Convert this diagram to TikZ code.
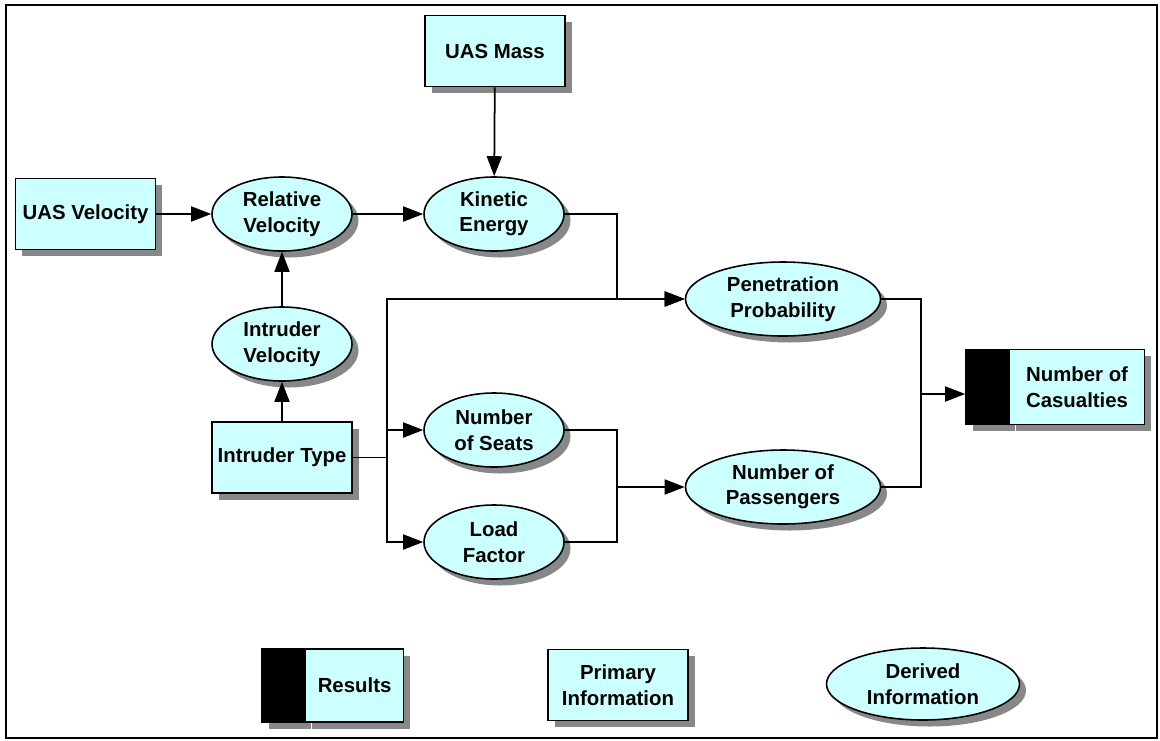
\documentclass[tikz,border=0pt]{standalone}
\usepackage{fontspec}
\setmainfont{Liberation Sans}
\usetikzlibrary{arrows.meta,shapes.geometric,shadows}
\definecolor{infocyan}{RGB}{204,255,255}
\definecolor{shadowgray}{RGB}{136,136,136}

\begin{document}
\begin{tikzpicture}[
    font=\fontsize{11.6}{14.5}\selectfont\bfseries,
    shade/.style={general shadow={fill=shadowgray, shadow xshift=0.13cm, shadow yshift=-0.13cm}},
    primary/.style={draw, line width=0.9pt, fill=infocyan, shade, align=center, inner sep=0pt,
        minimum width=2.8cm, minimum height=1.42cm},
    derived/.style={ellipse, draw, line width=0.9pt, fill=infocyan, shade, align=center, inner sep=0pt,
        minimum width=2.8cm, minimum height=1.48cm},
    resbar/.style={draw, line width=0.9pt, fill=black, shade, inner sep=0pt,
        minimum width=0.84cm, minimum height=1.48cm},
    arr/.style={-{Triangle[length=0.4cm,width=0.3cm]}, line width=1pt}
]
    \useasboundingbox (0,0) rectangle (23.2,-14.8);
    \draw[line width=1.1pt] (0.12,-0.1) rectangle (23.14,-14.76);

    \node[primary] (uasmass) at (9.9,-1.02) {UAS Mass};
    \node[primary] (uasvel) at (1.71,-4.28) {UAS Velocity};
    \node[derived] (relvel) at (5.64,-4.28) {Relative\\Velocity};
    \node[derived] (kinetic) at (9.88,-4.28) {Kinetic\\Energy};
    \node[derived] (intvel) at (5.64,-6.88) {Intruder\\Velocity};
    \node[primary] (inttype) at (5.64,-9.15) {Intruder Type};
    \node[derived, minimum width=3.9cm] (penetr) at (15.66,-5.98) {Penetration\\Probability};
    \node[derived] (seats) at (9.88,-8.6) {Number\\of Seats};
    \node[derived] (load) at (9.88,-10.84) {Load\\Factor};
    \node[derived, minimum width=3.9cm] (passeng) at (15.66,-9.74) {Number of\\Passengers};
    \node[resbar, minimum height=1.5cm] (casbar) at (19.74,-7.74) {};
    \node[primary, minimum width=2.7cm, minimum height=1.5cm, anchor=west] (casualties) at (casbar.east) {Number of\\Casualties};

    \draw[arr] (uasvel) -- (relvel);
    \draw[arr] (relvel) -- (kinetic);
    \draw[arr] (uasmass) -- (kinetic);
    \draw[arr] (intvel) -- (relvel);
    \draw[arr] (inttype) -- (intvel);
    \draw[arr] (kinetic.east) -- ++(1.04,0) |- (penetr.west);
    \draw[line width=1pt] (inttype.east) -- ++(0.68,0) coordinate (split);
    \draw[arr] (split) |- (penetr.west);
    \draw[arr] (split) |- (seats.west);
    \draw[arr] (split) |- (load.west);
    \draw[line width=1pt] (seats.east) -- ++(1.04,0) coordinate (join) |- (load.east);
    \draw[arr] (join |- passeng.west) -- (passeng.west);
    \draw[line width=1pt] (penetr.east) -- ++(0.79,0) coordinate (merge) |- (passeng.east);
    \draw[arr] (merge |- casbar.west) ++(0,-0.14) -- ([yshift=-0.14cm]casbar.west);

    \node[resbar, minimum height=1.46cm] (legbar) at (5.66,-13.71) {};
    \node[primary, minimum width=1.96cm, minimum height=1.46cm, anchor=west] (legresult) at (legbar.east) {Results};
    \node[primary] (legprimary) at (12.36,-13.7) {Primary\\Information};
    \node[derived, minimum width=3.86cm, minimum height=1.44cm] (legderived) at (18.46,-13.68) {Derived\\Information};
\end{tikzpicture}
\end{document}
